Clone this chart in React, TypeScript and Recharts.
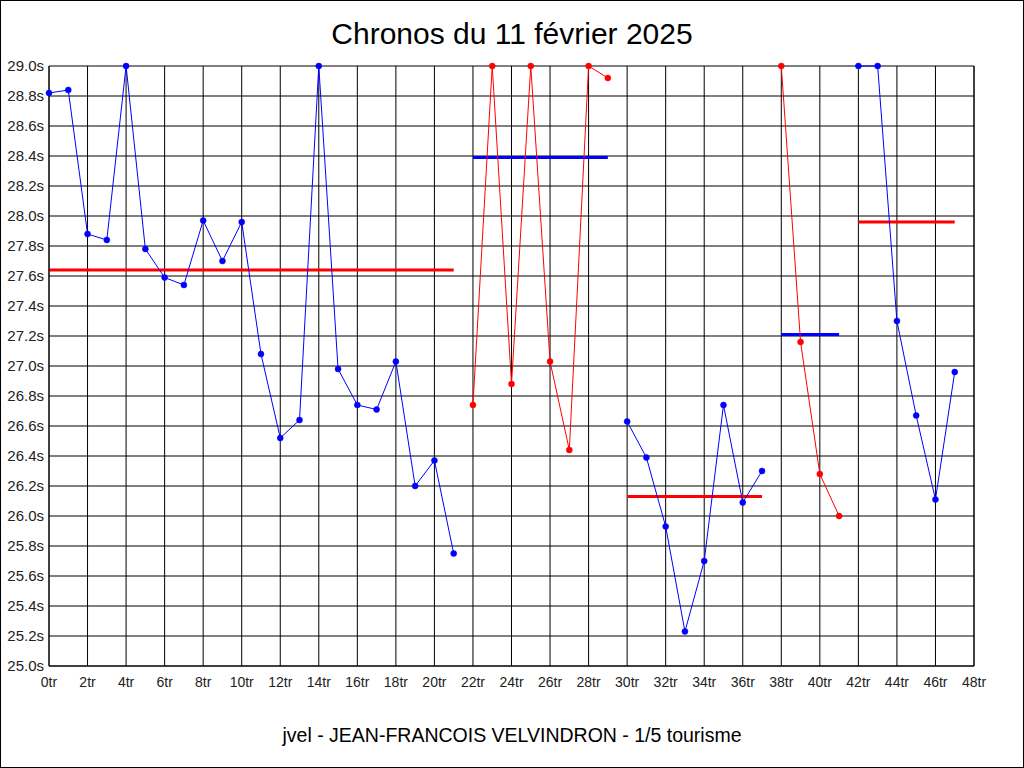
import { LineChart, Line, XAxis, YAxis, CartesianGrid, ReferenceLine } from "recharts";

// lap index and lap times (seconds); null = lap belongs to the other colour
const laps = [
  0, 1, 2, 3, 4, 5, 6, 7, 8, 9, 10, 11, 12, 13, 14, 15, 16, 17, 18, 19, 20, 21, 22, 23,
  24, 25, 26, 27, 28, 29, 30, 31, 32, 33, 34, 35, 36, 37, 38, 39, 40, 41, 42, 43, 44, 45, 46, 47,
];
const blueTimes = [
  28.82, 28.84, 27.88, 27.84, 29.0, 27.78, 27.59, 27.54, 27.97, 27.7, 27.96, 27.08, 26.52, 26.64,
  29.0, 26.98, 26.74, 26.71, 27.03, 26.2, 26.37, 25.75,
  null, null, null, null, null, null, null, null,
  26.63, 26.39, 25.93, 25.23, 25.7, 26.74, 26.09, 26.3,
  null, null, null, null,
  29.0, 29.0, 27.3, 26.67, 26.11, 26.96,
];
const redTimes = [
  null, null, null, null, null, null, null, null, null, null, null, null, null, null, null, null,
  null, null, null, null, null, null,
  26.74, 29.0, 26.88, 29.0, 27.03, 26.44, 29.0, 28.92,
  null, null, null, null, null, null, null, null,
  29.0, 27.16, 26.28, 26.0,
  null, null, null, null, null, null,
];

// average of each stint, drawn in the opposite colour
const stintStart = [0, 22, 30, 38, 42];
const stintEnd = [21, 29, 37, 41, 47];
const stintAvg = [27.64, 28.39, 26.13, 27.21, 27.96];
const stintAvgColor = ["#ff0000", "#0000ff", "#ff0000", "#0000ff", "#ff0000"];

const xTicks = [0, 2, 4, 6, 8, 10, 12, 14, 16, 18, 20, 22, 24, 26, 28, 30, 32, 34, 36, 38, 40, 42, 44, 46, 48];
const yTicks = [
  25.0, 25.2, 25.4, 25.6, 25.8, 26.0, 26.2, 26.4, 26.6, 26.8, 27.0, 27.2, 27.4, 27.6, 27.8, 28.0,
  28.2, 28.4, 28.6, 28.8, 29.0,
];

const data = laps.map((lap, i) => ({ lap, blue: blueTimes[i], red: redTimes[i] }));

const font = "'Liberation Sans', Arial, sans-serif";
const xTick = { fontSize: 14, fill: "#222", fontFamily: font };
const yTick = { fontSize: 15, fill: "#222", fontFamily: font };

export default function App() {
  return (
    <div
      style={{
        position: "absolute",
        left: 0,
        top: 0,
        width: 1024,
        height: 768,
        boxSizing: "border-box",
        border: "1px solid #000",
        background: "#fff",
        fontFamily: font,
      }}
    >
      <div style={{ position: "absolute", top: 16, width: "100%", textAlign: "center", fontSize: 30 }}>
        Chronos du 11 février 2025
      </div>
      <div style={{ position: "absolute", top: 723, width: "100%", textAlign: "center", fontSize: 19.5 }}>
        jvel - JEAN-FRANCOIS VELVINDRON - 1/5 tourisme
      </div>
      <div style={{ position: "absolute", left: -1, top: -1 }}>
        <LineChart width={1024} height={768} data={data} margin={{ top: 66, right: 0, left: 0, bottom: 72 }}>
          <CartesianGrid
            yAxisId="l"
            stroke="#000"
            strokeWidth={1}
            horizontalValues={yTicks}
            verticalValues={xTicks}
          />
          <XAxis
            dataKey="lap"
            type="number"
            domain={[0, 48]}
            ticks={xTicks}
            interval={0}
            tickFormatter={(v) => `${v}tr`}
            tick={xTick}
            stroke="#000"
            tickSize={0}
            tickMargin={11}
            height={30}
          />
          <YAxis
            yAxisId="l"
            domain={[25, 29]}
            ticks={yTicks}
            interval={0}
            tickFormatter={(v) => `${v.toFixed(1)}s`}
            tick={yTick}
            stroke="#000"
            tickSize={0}
            tickMargin={5}
            width={49}
          />
          <YAxis
            yAxisId="r"
            orientation="right"
            domain={[25, 29]}
            ticks={yTicks}
            interval={0}
            tickFormatter={(v) => `${v.toFixed(1)}s`}
            tick={{ ...yTick, textAnchor: "start" }}
            stroke="#000"
            tickSize={0}
            tickMargin={5}
            width={50}
          />
          {stintAvg.map((v, i) => (
            <ReferenceLine
              key={i}
              yAxisId="l"
              segment={[
                { x: stintStart[i], y: v },
                { x: stintEnd[i], y: v },
              ]}
              stroke={stintAvgColor[i]}
              strokeWidth={3}
            />
          ))}
          <Line
            yAxisId="l"
            dataKey="blue"
            stroke="#0000ff"
            strokeWidth={1}
            dot={{ r: 3, fill: "#0000ff", stroke: "#0000ff", strokeWidth: 0.5 }}
            isAnimationActive={false}
            connectNulls={false}
          />
          <Line
            yAxisId="l"
            dataKey="red"
            stroke="#ff0000"
            strokeWidth={1}
            dot={{ r: 3, fill: "#ff0000", stroke: "#ff0000", strokeWidth: 0.5 }}
            isAnimationActive={false}
            connectNulls={false}
          />
        </LineChart>
      </div>
    </div>
  );
}
